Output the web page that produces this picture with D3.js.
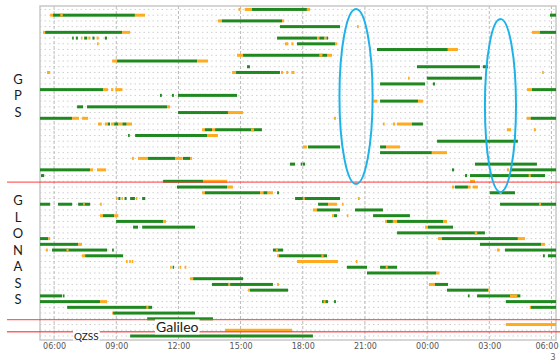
<!DOCTYPE html>
<html>
<head>
<meta charset="utf-8">
<script src="https://cdn.jsdelivr.net/npm/d3@7"></script>
<style>
  body { margin: 0; background: #fff; }
  svg { display: block; }
</style>
</head>
<body>
<svg id="chart" width="560" height="363"></svg>
<script>
// Satellite tracking timeline. Each entry: [slot row, start hour, end hour, status]
// Hours count from 00:00 of the first day (24 = next midnight).
// Status "T" = tracked, "P" = partial / degraded.
const gpsTracks = [
  [0,14.9,15.0,"P"],[0,15.2,15.55,"P"],[0,15.55,18.2,"T"],[0,18.2,18.35,"P"],
  [1,5.81,5.95,"P"],[1,5.95,9.9,"T"],[1,6.3,6.42,"P"],[1,9.9,10.39,"P"],[1,29.93,30.22,"T"],
  [2,13.9,14.1,"P"],[2,14.1,17.0,"T"],[2,17.0,17.1,"P"],
  [3,16.9,19.8,"T"],[3,20.62,20.7,"P"],
  [4,5.47,5.57,"P"],[4,5.57,9.28,"T"],[4,9.28,9.67,"P"],[4,29.06,29.44,"P"],[4,29.44,30.22,"T"],
  [5,6.87,6.95,"T"],[5,7.05,7.15,"T"],[5,7.3,7.36,"P"],[5,7.45,7.6,"T"],[5,7.65,7.75,"P"],[5,7.85,7.95,"T"],[5,8.05,8.15,"P"],[5,8.45,8.55,"T"],
  [5,16.76,18.7,"T"],[5,18.7,18.8,"P"],[5,18.8,19.05,"T"],[5,19.05,19.15,"P"],[5,19.15,19.22,"T"],
  [6,8.07,8.15,"P"],[6,17.14,17.3,"P"],[6,17.45,17.55,"P"],[6,17.72,19.56,"T"],[6,19.56,19.65,"P"],
  [7,21.58,25.0,"T"],[7,25.0,25.49,"P"],
  [8,14.83,15.12,"P"],[8,15.12,19.17,"T"],[8,18.8,18.95,"P"],[8,19.17,19.41,"P"],
  [9,8.8,9.04,"P"],[9,9.04,12.9,"T"],[9,12.9,13.43,"P"],
  [10,15.31,15.45,"T"],[10,23.51,26.55,"T"],[10,26.69,26.94,"T"],
  [11,5.66,5.81,"P"],[11,14.59,14.78,"P"],[11,14.78,16.9,"T"],[11,16.95,17.05,"P"],[11,17.2,17.3,"P"],[11,17.45,17.6,"P"],[11,29.55,29.63,"P"],
  [12,23.08,23.15,"P"],[12,23.99,26.65,"T"],
  [13,21.73,23.9,"T"],[13,24.28,24.38,"T"],
  [14,5.32,8.36,"T"],[14,8.36,8.6,"P"],[14,8.75,8.85,"P"],[14,8.95,9.3,"P"],[14,28.82,29.06,"P"],[14,29.06,30.22,"T"],
  [15,11.11,11.2,"T"],[15,11.69,11.78,"T"],[15,11.98,14.83,"T"],
  [16,21.39,21.6,"P"],[16,21.73,23.56,"T"],[16,23.56,23.8,"P"],
  [17,7.11,7.4,"T"],[17,7.59,11.45,"T"],[17,11.45,11.6,"P"],
  [18,11.98,14.39,"T"],[18,14.39,15.12,"P"],
  [19,5.32,6.87,"T"],[19,6.87,7.2,"P"],[19,7.35,7.64,"P"],[19,19.51,19.6,"P"],[19,28.8,29.0,"P"],[19,29.0,30.22,"T"],
  [20,8.12,8.3,"P"],[20,8.45,8.6,"P"],[20,8.6,8.7,"T"],[20,8.75,8.9,"P"],[20,8.9,9.1,"T"],[20,9.1,9.3,"P"],[20,9.3,9.5,"T"],[20,9.5,9.76,"P"],
  [20,21.87,21.95,"P"],[20,22.35,22.45,"P"],[20,22.55,23.27,"P"],[20,23.27,23.8,"T"],
  [21,13.14,13.28,"P"],[21,13.28,13.62,"T"],[21,13.62,13.77,"P"],[21,13.77,16.03,"T"],[21,15.5,15.65,"P"],[21,27.85,28.05,"P"],[21,29.15,29.25,"P"],
  [22,9.57,9.65,"T"],[22,9.91,13.38,"T"],[22,13.38,13.91,"P"],
  [23,24.48,28.38,"T"],
  [24,18.01,18.2,"P"],[24,18.25,19.8,"T"],[24,21.73,22.02,"T"],[24,22.02,22.69,"P"],
  [25,21.73,24.23,"T"],[25,24.23,24.96,"P"],
  [26,9.76,9.85,"P"],[26,10.05,10.53,"P"],[26,10.53,11.84,"T"],[26,11.84,12.2,"P"],[26,12.22,12.56,"T"],[26,12.56,12.66,"P"],
  [27,17.38,17.63,"T"],[27,17.9,17.98,"T"],[27,18.01,18.11,"T"],[27,26.31,29.3,"T"],
  [28,5.32,7.74,"T"],[28,7.74,7.88,"P"],[28,8.07,8.51,"P"],[28,25.2,25.3,"T"],[28,27.85,27.95,"P"],[28,28.0,30.22,"T"],
  [29,5.37,5.52,"T"],[29,25.83,25.93,"T"],[29,26.07,29.69,"T"],[29,28.9,29.0,"P"],
  [30,11.26,13.19,"T"],[30,13.19,14.35,"P"],[30,26.07,26.31,"P"]
];

const glonassTracks = [
  [31,11.93,14.35,"T"],[31,14.35,14.63,"P"],[31,25.2,25.3,"P"],[31,25.34,25.97,"T"],[31,25.97,26.1,"P"],[31,26.2,26.45,"P"],
  [32,13.14,13.28,"P"],[32,13.28,15.94,"T"],[32,15.94,16.1,"P"],[32,16.1,16.3,"T"],[32,16.3,16.56,"P"],[32,16.76,16.85,"T"],[32,27.03,28.24,"T"],[32,27.5,27.6,"P"],
  [33,8.99,9.05,"P"],[33,9.1,9.2,"T"],[33,9.25,9.33,"P"],[33,9.4,9.5,"T"],[33,9.67,9.9,"T"],[33,9.95,10.0,"P"],[33,10.25,10.4,"T"],[33,17.63,19.8,"T"],[33,18.0,18.1,"P"],[33,20.66,20.75,"P"],
  [34,5.32,5.81,"T"],[34,6.19,6.87,"T"],[34,7.16,7.74,"T"],[34,7.4,7.48,"P"],[34,8.22,8.3,"P"],[34,18.74,19.22,"T"],[34,19.22,19.65,"P"],[34,19.89,19.97,"P"],[34,27.52,30.22,"T"],[34,29.4,29.5,"P"],
  [35,18.49,18.69,"P"],[35,18.69,19.8,"T"],[35,20.52,21.87,"T"],
  [36,8.22,8.36,"P"],[36,8.36,8.9,"T"],[36,8.9,9.1,"P"],[36,19.41,19.5,"P"],[36,19.51,19.65,"T"],[36,20.13,20.2,"P"],[36,21.39,23.17,"T"],
  [37,8.99,11.26,"T"],[37,11.26,11.4,"P"],[37,21.97,22.06,"P"],[37,22.06,22.35,"T"],[37,22.35,22.55,"P"],[37,22.55,24.77,"T"],[37,24.77,24.96,"P"],
  [38,9.81,10.05,"T"],[38,10.25,12.8,"T"],[38,23.9,24.04,"P"],[38,24.04,25.25,"T"],
  [39,22.55,26.79,"T"],[39,26.3,26.42,"P"],
  [40,5.32,5.71,"T"],[40,5.71,5.81,"P"],[40,24.52,24.72,"P"],[40,24.72,28.38,"T"],[40,28.38,28.72,"P"],
  [41,5.32,7.16,"T"],[41,7.16,7.35,"P"],[41,26.55,29.5,"T"],[41,29.5,29.69,"P"],
  [42,5.61,5.7,"P"],[42,5.9,8.56,"T"],[42,6.6,6.7,"P"],[42,8.8,8.88,"T"],[42,16.56,17.05,"T"],[42,16.7,16.8,"P"],[42,27.37,27.5,"P"],[42,27.76,30.22,"T"],
  [43,7.35,7.5,"P"],[43,7.5,9.33,"T"],[43,16.76,16.85,"P"],[43,16.85,19.17,"T"],[43,18.9,19.0,"P"],[43,29.59,29.68,"T"],[43,29.83,30.22,"T"],
  [44,9.47,9.55,"P"],[44,9.62,9.7,"P"],[44,9.75,9.82,"P"],[44,17.72,19.7,"P"],[44,20.56,20.64,"P"],
  [45,11.6,11.66,"P"],[45,11.72,11.78,"T"],[45,12.06,12.12,"P"],[45,12.3,12.38,"P"],[45,20.13,21.1,"T"],[45,21.73,22.55,"T"],[45,22.0,22.1,"P"],
  [46,21.1,24.45,"T"],[46,24.45,24.6,"P"],
  [47,12.56,12.71,"P"],[47,12.71,15.12,"T"],
  [48,13.62,16.56,"T"],[48,14.4,14.5,"P"],[48,16.76,16.85,"P"],[48,24.09,24.38,"P"],[48,24.38,25.01,"T"],
  [49,15.36,15.45,"P"],[49,15.45,17.29,"T"],[49,24.96,26.94,"T"],[49,26.94,27.0,"P"],
  [50,5.32,6.39,"T"],[50,6.43,6.5,"T"],[50,25.97,26.05,"T"],[50,26.41,28.5,"T"],[50,28.0,28.35,"P"],
  [51,5.32,8.22,"T"],[51,8.22,8.56,"P"],[51,18.93,19.22,"T"],[51,19.0,19.1,"P"],[51,19.51,19.6,"T"],[51,27.8,30.22,"T"],
  [52,6.63,10.73,"T"],[52,10.45,10.55,"P"],[52,28.95,29.01,"P"],[52,29.01,30.22,"T"],
  [53,8.8,8.85,"P"],[53,8.85,12.8,"T"]
];

const galileoTracks = [
  [54,10.49,13.67,"T"],
  [55,27.8,30.22,"P"],
  [56,14.25,17.48,"P"]
];

const qzssTracks = [
  [57,9.67,18.49,"T"]
];

// Constellation names (vertical labels) and the row span each one covers
const stackedLabels = [
  { name: "GPS", first: 0, last: 30 },
  { name: "GLONASS", first: 31, last: 53 }
];
const inlineLabels = [
  { name: "Galileo", hour: 10.92, row: 55.5, size: 14 },
  { name: "QZSS", hour: 6.96, row: 57.0, size: 10 }
];

// Boundaries between constellations (in row units)
const separatorRows = [30.15, 54.15, 56.25];

// Highlighted outage windows: centre hour, centre row, half-width (h), half-height (rows)
const highlights = [
  { hour: 20.57, row: 15.2, dh: 0.8, dr: 15.27 },
  { hour: 27.54, row: 16.77, dh: 0.75, dr: 15.1 }
];

const tickHours = [6, 9, 12, 15, 18, 21, 24, 27, 30];
const timeDomain = [5.32, 30.22];
const rowDomain = [-0.6, 57.7];
const rowCount = 58;

// ---------------------------------------------------------------
const svg = d3.select("#chart");
const W = 560, H = 363;
const plot = { left: 40, right: 556, top: 6, bottom: 340 };

const x = d3.scaleLinear().domain(timeDomain).range([plot.left, plot.right]);
const y = d3.scaleLinear().domain(rowDomain).range([plot.top, plot.bottom]);

const COLORS = { T: "#1f891f", P: "#ffab1e" };

svg.append("rect").attr("width", W).attr("height", H).attr("fill", "#fff");

// row guides (dotted)
svg.append("g")
  .selectAll("line")
  .data(d3.range(rowCount))
  .join("line")
  .attr("x1", plot.left).attr("x2", plot.right)
  .attr("y1", d => y(d)).attr("y2", d => y(d))
  .attr("stroke", "#cfcfcf")
  .attr("stroke-width", 1)
  .attr("stroke-dasharray", "1.5,3");

// time guides (dashed)
svg.append("g")
  .selectAll("line")
  .data(tickHours)
  .join("line")
  .attr("x1", d => x(d)).attr("x2", d => x(d))
  .attr("y1", plot.top).attr("y2", plot.bottom)
  .attr("stroke", "#b9b9b9")
  .attr("stroke-width", 1)
  .attr("stroke-dasharray", "3,2");

// plot frame
svg.append("rect")
  .attr("x", plot.left).attr("y", plot.top)
  .attr("width", plot.right - plot.left).attr("height", plot.bottom - plot.top)
  .attr("fill", "none")
  .attr("stroke", "#c8c8c8")
  .attr("stroke-width", 1.5);

// tracking segments
const allTracks = [].concat(gpsTracks, glonassTracks, galileoTracks, qzssTracks);
svg.append("g")
  .selectAll("rect")
  .data(allTracks)
  .join("rect")
  .attr("x", d => x(d[1]))
  .attr("width", d => Math.max(1.5, x(d[2]) - x(d[1])))
  .attr("y", d => y(d[0]) - 1.5)
  .attr("height", 3)
  .attr("fill", d => COLORS[d[3]]);

// constellation separators
svg.append("g")
  .selectAll("line")
  .data(separatorRows)
  .join("line")
  .attr("x1", 7).attr("x2", W)
  .attr("y1", d => y(d)).attr("y2", d => y(d))
  .attr("stroke", "#ff3b3b")
  .attr("stroke-opacity", 0.8)
  .attr("stroke-width", 1.4);

// highlighted windows
svg.append("g")
  .selectAll("ellipse")
  .data(highlights)
  .join("ellipse")
  .attr("cx", d => x(d.hour))
  .attr("cy", d => y(d.row))
  .attr("rx", d => x(d.hour + d.dh) - x(d.hour))
  .attr("ry", d => y(d.row + d.dr) - y(d.row))
  .attr("fill", "none")
  .attr("stroke", "#1db3ea")
  .attr("stroke-width", 2);

// vertical constellation labels
const letterStep = 16.5;
stackedLabels.forEach(c => {
  const letters = c.name.split("");
  const mid = y((c.first + c.last) / 2);
  const start = mid - (letters.length - 1) * letterStep / 2;
  svg.append("g")
    .selectAll("text")
    .data(letters)
    .join("text")
    .attr("x", 18)
    .attr("y", (d, i) => start + i * letterStep)
    .attr("dy", "0.36em")
    .attr("text-anchor", "middle")
    .attr("font-family", "Lato, 'Open Sans', sans-serif")
    .attr("font-size", 13)
    .attr("fill", "#1a1a1a")
    .text(d => d);
});

// inline constellation labels on a white plate
inlineLabels.forEach(c => {
  const g = svg.append("g");
  const t = g.append("text")
    .attr("x", x(c.hour))
    .attr("y", y(c.row))
    .attr("dy", "0.36em")
    .attr("font-family", "Lato, 'Open Sans', sans-serif")
    .attr("font-size", c.size)
    .attr("fill", "#1a1a1a")
    .text(c.name);
  const bb = t.node().getBBox();
  g.insert("rect", "text")
    .attr("x", bb.x - 1).attr("y", bb.y + 1)
    .attr("width", bb.width + 2).attr("height", bb.height - 2)
    .attr("fill", "#fff");
});

// time axis
const fmt = h => String(h % 24).padStart(2, "0") + ":00";
const axis = d3.axisBottom(x)
  .tickValues(tickHours)
  .tickFormat(fmt)
  .tickSize(0)
  .tickPadding(3.5);
const ax = svg.append("g")
  .attr("transform", `translate(0,${plot.bottom})`)
  .call(axis);
ax.select(".domain").remove();
ax.selectAll("text")
  .attr("font-family", "'DejaVu Sans', sans-serif")
  .attr("font-size", 8)
  .attr("fill", "#555");
// keep the last label inside the page
ax.selectAll(".tick")
  .filter(d => d === tickHours[tickHours.length - 1])
  .select("text")
  .attr("text-anchor", "end")
  .attr("x", W - 2 - x(tickHours[tickHours.length - 1]));

svg.append("text")
  .attr("x", 553).attr("y", 360)
  .attr("text-anchor", "middle")
  .attr("font-family", "'DejaVu Sans', sans-serif")
  .attr("font-size", 8)
  .attr("fill", "#666")
  .text("3");
</script>
</body>
</html>
